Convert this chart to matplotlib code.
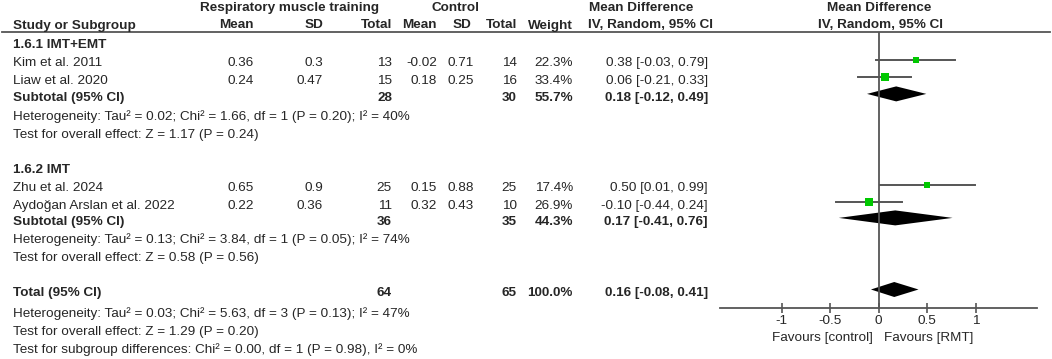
import matplotlib
matplotlib.use("Agg")
import matplotlib.pyplot as plt
from matplotlib.patches import Polygon

# ── Data ─────────────────────────────────────────────────────
studies    = ["Kim et al. 2011", "Liaw et al. 2020", "Zhu et al. 2024", "Aydoğan Arslan et al. 2022"]
groups     = [0, 0, 1, 1]
rmt_mean   = ["0.36", "0.24", "0.65", "0.22"]
rmt_sd     = ["0.3", "0.47", "0.9", "0.36"]
rmt_n      = [13, 15, 25, 11]
ctl_mean   = ["-0.02", "0.18", "0.15", "0.32"]
ctl_sd     = ["0.71", "0.25", "0.88", "0.43"]
ctl_n      = [14, 16, 25, 10]
weight     = [22.3, 33.4, 17.4, 26.9]
md         = [0.38, 0.06, 0.50, -0.10]
md_lo      = [-0.03, -0.21, 0.01, -0.44]
md_hi      = [0.79, 0.33, 0.99, 0.24]

group_names = ["1.6.1 IMT+EMT", "1.6.2 IMT"]
sub_rmt_n   = [28, 36]
sub_ctl_n   = [30, 35]
sub_weight  = [55.7, 44.3]
sub_md      = [0.18, 0.17]
sub_lo      = [-0.12, -0.41]
sub_hi      = [0.49, 0.76]
sub_het     = ["Heterogeneity: Tau² = 0.02; Chi² = 1.66, df = 1 (P = 0.20); I² = 40%",
               "Heterogeneity: Tau² = 0.13; Chi² = 3.84, df = 1 (P = 0.05); I² = 74%"]
sub_z       = ["Test for overall effect: Z = 1.17 (P = 0.24)",
               "Test for overall effect: Z = 0.58 (P = 0.56)"]

tot_rmt_n, tot_ctl_n, tot_weight = 64, 65, 100.0
tot_md, tot_lo, tot_hi = 0.16, -0.08, 0.41
tot_lines = ["Heterogeneity: Tau² = 0.03; Chi² = 5.63, df = 3 (P = 0.13); I² = 47%",
             "Test for overall effect: Z = 1.29 (P = 0.20)",
             "Test for subgroup differences: Chi² = 0.00, df = 1 (P = 0.98), I² = 0%"]

ticks = [-1, -0.5, 0, 0.5, 1]

# ── Style ────────────────────────────────────────────────────
W, H = 1052, 359
TXT   = "#262626"
GREEN = "#00c800"
LINE  = "#555555"
FS    = 9.7
plt.rcParams["font.family"] = ["Liberation Sans", "DejaVu Sans"]

fig = plt.figure(figsize=(W / 100, H / 100), dpi=100)
fig.patch.set_facecolor("white")

# text layer in pixel coordinates
tx = fig.add_axes([0, 0, 1, 1])
tx.set_xlim(0, W)
tx.set_ylim(H, 0)
tx.axis("off")

# forest layer: x in mean difference units, y in pixels
fx_left, fx_right = 720, 1037
fx = fig.add_axes([fx_left / W, 0, (fx_right - fx_left) / W, 1])
fx.set_xlim(-1.633, 1.629)
fx.set_ylim(H, 0)
fx.patch.set_alpha(0)
for s in ["top", "left", "right"]:
    fx.spines[s].set_visible(False)

AXIS_Y = 307.5
HEAD_Y = 31.7


def t(x, y, s, ha="left", bold=False):
    tx.text(x, y, s, ha=ha, va="center", fontsize=FS, color=TXT,
            fontweight="bold" if bold else "normal")


# column right edges
C_RM, C_RS, C_RN = 254, 323, 392
C_CM, C_CS, C_CN = 437, 474, 517
C_W, C_MD = 573, 708
X0 = 13

# headers
t(290, 8, "Respiratory muscle training", ha="center", bold=True)
t(455, 8, "Control", ha="center", bold=True)
t(641, 8, "Mean Difference", ha="center", bold=True)
t(879, 8, "Mean Difference", ha="center", bold=True)
hy = 25.5
t(X0, hy, "Study or Subgroup", bold=True)
t(C_RM, hy, "Mean", ha="right", bold=True)
t(C_RS, hy, "SD", ha="right", bold=True)
t(C_RN, hy, "Total", ha="right", bold=True)
t(C_CM, hy, "Mean", ha="right", bold=True)
t(C_CS - 3, hy, "SD", ha="right", bold=True)
t(C_CN, hy, "Total", ha="right", bold=True)
t(C_W, hy, "Weight", ha="right", bold=True)
t(651, hy, "IV, Random, 95% CI", ha="center", bold=True)
t(881, hy, "IV, Random, 95% CI", ha="center", bold=True)
tx.plot([2, 1050], [HEAD_Y, HEAD_Y], color=LINE, lw=1.3)

# row layout (pixel y)
group_y   = [45, 170]
study_y   = [63.3, 81, 188.3, 205.7]
sub_y     = [97.7, 221.7]
het_y     = [116.7, 240]
z_y       = [135, 258.3]
total_y   = 293.3
tot_ly    = [313.3, 331.7, 350]
MARK_OFF  = -3.8   # forest marks sit slightly above text centre


def ci(m, lo, hi):
    return f"{m:.2f} [{lo:.2f}, {hi:.2f}]"


def diamond(y, m, lo, hi, h=7.5):
    fx.add_patch(Polygon([(lo, y), (m, y - h), (hi, y), (m, y + h)],
                         closed=True, color="black", lw=0))


for g, name in enumerate(group_names):
    t(X0, group_y[g], name, bold=True)

for i, name in enumerate(studies):
    y = study_y[i]
    t(X0, y, name)
    t(C_RM, y, rmt_mean[i], ha="right")
    t(C_RS, y, rmt_sd[i], ha="right")
    t(C_RN, y, str(rmt_n[i]), ha="right")
    t(C_CM, y, ctl_mean[i], ha="right")
    t(C_CS, y, ctl_sd[i], ha="right")
    t(C_CN, y, str(ctl_n[i]), ha="right")
    t(C_W, y, f"{weight[i]:.1f}%", ha="right")
    t(C_MD, y, ci(md[i], md_lo[i], md_hi[i]), ha="right")
    my = y + MARK_OFF
    fx.plot([md_lo[i], md_hi[i]], [my, my], color=LINE, lw=1.4, zorder=2)
    side = 1.45 * weight[i] ** 0.5      # px
    fx.plot(md[i], my, marker="s", ms=side * 0.72, color=GREEN, mew=0, zorder=3)

for g in range(2):
    y = sub_y[g]
    t(X0, y, "Subtotal (95% CI)", bold=True)
    t(C_RN, y, str(sub_rmt_n[g]), ha="right", bold=True)
    t(C_CN, y, str(sub_ctl_n[g]), ha="right", bold=True)
    t(C_W, y, f"{sub_weight[g]:.1f}%", ha="right", bold=True)
    t(C_MD, y, ci(sub_md[g], sub_lo[g], sub_hi[g]), ha="right", bold=True)
    diamond(y + MARK_OFF, sub_md[g], sub_lo[g], sub_hi[g])
    t(X0, het_y[g], sub_het[g])
    t(X0, z_y[g], sub_z[g])

t(X0, total_y, "Total (95% CI)", bold=True)
t(C_RN, total_y, str(tot_rmt_n), ha="right", bold=True)
t(C_CN, total_y, str(tot_ctl_n), ha="right", bold=True)
t(C_W, total_y, f"{tot_weight:.1f}%", ha="right", bold=True)
t(C_MD, total_y, ci(tot_md, tot_lo, tot_hi), ha="right", bold=True)
diamond(total_y + MARK_OFF, tot_md, tot_lo, tot_hi)
for ly, s in zip(tot_ly, tot_lines):
    t(X0, ly, s)

# null line and x axis
fx.vlines(0, HEAD_Y, AXIS_Y, color=LINE, lw=1.3, zorder=1)
fx.spines["bottom"].set_position(("data", AXIS_Y))
fx.spines["bottom"].set_color(LINE)
fx.spines["bottom"].set_linewidth(1.3)
fx.set_yticks([])
fx.set_xticks(ticks)
fx.set_xticklabels([f"{v:g}" for v in ticks])
fx.tick_params(axis="x", direction="inout", length=7, width=1.2, color=LINE,
               labelsize=FS, labelcolor=TXT, pad=2)
t(873, 338.3, "Favours [control]", ha="right")
t(884, 338.3, "Favours [RMT]")

fig.savefig("out.png", dpi=100, facecolor="white")
